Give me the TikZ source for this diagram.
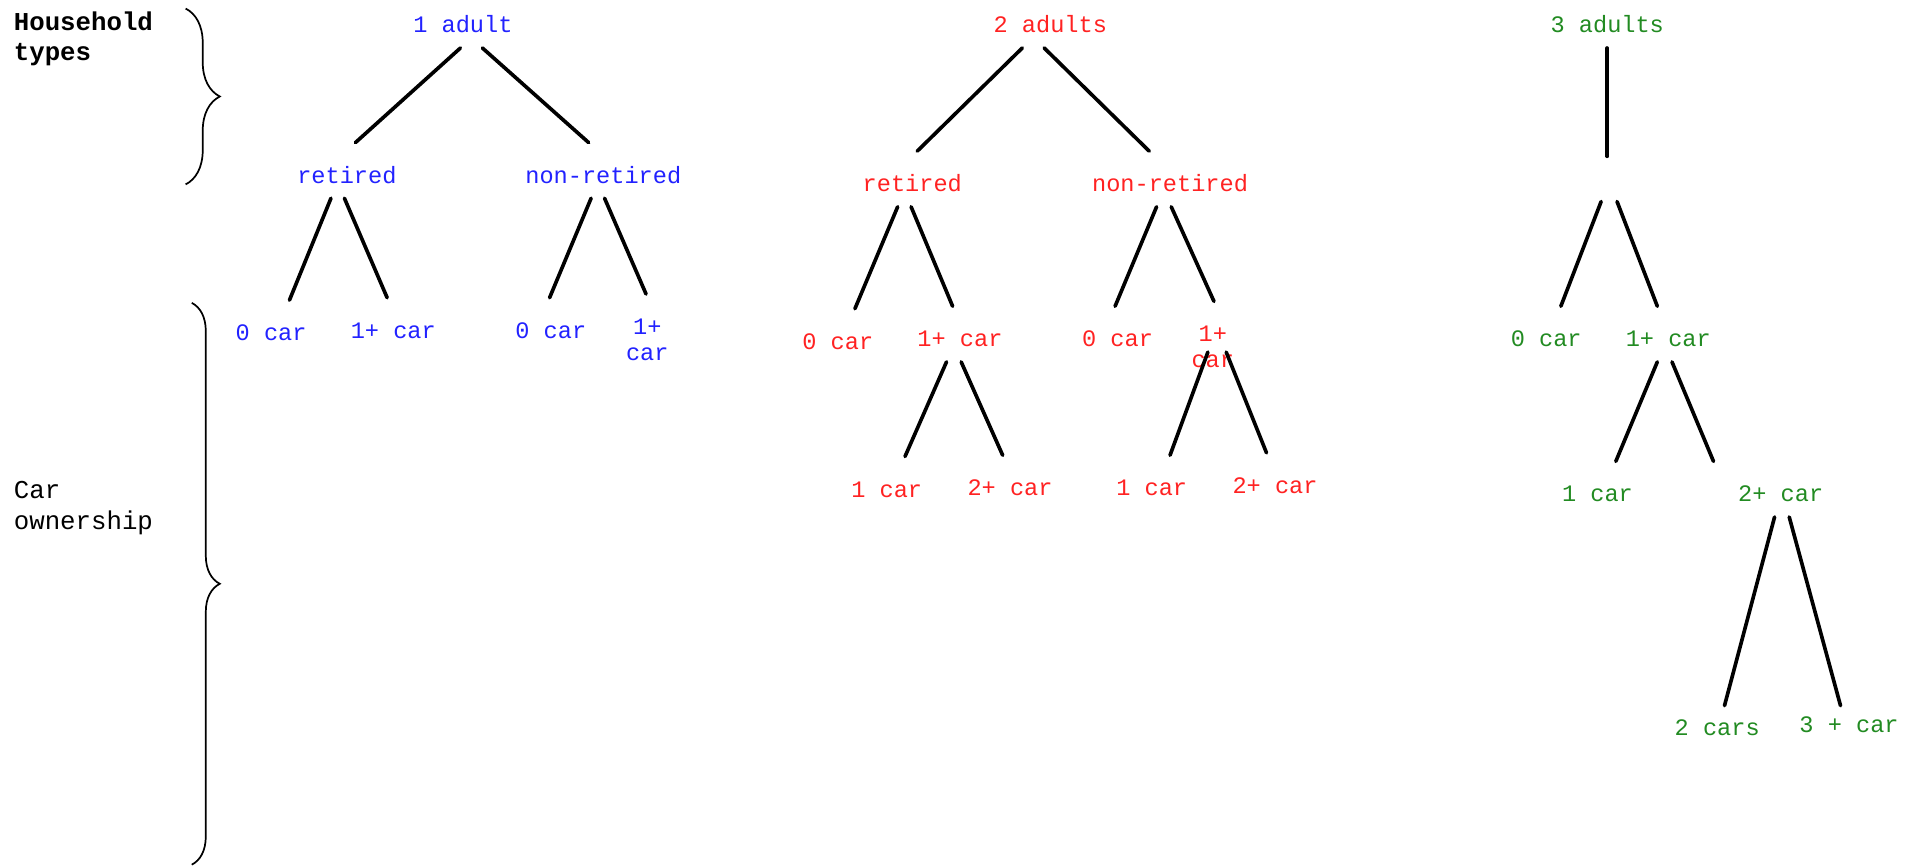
\documentclass[tikz,border=0pt]{standalone}
\usepackage{fontspec}
\setmainfont{Liberation Mono}
\usepackage{tikz}
\usetikzlibrary{decorations.pathreplacing}

\begin{document}
\begin{tikzpicture}[x=2cm, y=2cm,
        lbl/.style={inner sep=0pt, anchor=base, text height=18.7pt, text depth=6.8pt, align=center, font=\fontsize{11}{12}\selectfont},
        side/.style={inner sep=0pt, anchor=west, align=left, font=\fontsize{12}{14.2}\selectfont},
        branch/.style={line width=1.7pt, line cap=round},
        curly/.style={decorate, decoration={brace, amplitude=#1}, line width=0.8pt}]
        % Define the colors
        \definecolor{hhblue}{HTML}{2222FF}
        \definecolor{hhred}{HTML}{FF2222}
        \definecolor{hhgreen}{HTML}{228B22}

        \useasboundingbox (0,0) rectangle (15.68,-7.09);

        % Side labels with their braces
        \node[side, font=\bfseries\fontsize{12}{14.2}\selectfont] (HhTypes) at (0.11,-0.32) {Household\\types};
        \node[side] (CarOwn) at (0.11,-4.16) {Car\\ownership};
        \coordinate (HhTop) at (1.52,-0.07);
        \coordinate (HhBot) at (1.52,-1.51);
        \coordinate (CoTop) at (1.57,-2.48);
        \coordinate (CoBot) at (1.57,-7.08);
        \draw[curly=0.56cm] (HhTop) -- (HhBot);
        \draw[curly=0.46cm] (CoTop) -- (CoBot);

        % Draw the 1 adult tree (blue)
        \node[lbl, text=hhblue] (Adult1) at (3.79,-0.27) {1 adult};
        \node[lbl, text=hhblue] (Ret1) at (2.84,-1.50) {retired};
        \node[lbl, text=hhblue] (NonRet1) at (4.94,-1.50) {non-retired};
        \node[lbl, text=hhblue] (Ret1Zero) at (2.22,-2.79) {0 car};
        \node[lbl, text=hhblue] (Ret1Plus) at (3.22,-2.77) {1+ car};
        \node[lbl, text=hhblue] (NonRet1Zero) at (4.51,-2.77) {0 car};
        \node[lbl, text=hhblue] (NonRet1Plus) at (5.30,-2.95) {1+\\car};

        \draw[branch] ([xshift=-0.04cm]Adult1.south) -- ([xshift=0.14cm]Ret1.north);
        \draw[branch] ([xshift=0.32cm]Adult1.south) -- ([xshift=-0.24cm]NonRet1.north);
        \draw[branch] ([xshift=-0.26cm]Ret1.south) -- ([xshift=0.30cm]Ret1Zero.north);
        \draw[branch] ([xshift=-0.04cm]Ret1.south) -- ([xshift=-0.10cm]Ret1Plus.north);
        \draw[branch] ([xshift=-0.20cm]NonRet1.south) -- ([xshift=-0.02cm]NonRet1Zero.north);
        \draw[branch] ([xshift=0.02cm]NonRet1.south) -- ([xshift=-0.02cm, yshift=0.42cm]NonRet1Plus.north);

        % Draw the 2 adults tree (red)
        \node[lbl, text=hhred] (Adult2) at (8.60,-0.27) {2 adults};
        \node[lbl, text=hhred] (Ret2) at (7.47,-1.57) {retired};
        \node[lbl, text=hhred] (NonRet2) at (9.58,-1.57) {non-retired};
        \node[lbl, text=hhred] (Ret2Zero) at (6.86,-2.86) {0 car};
        \node[lbl, text=hhred] (Ret2Plus) at (7.86,-2.84) {1+ car};
        \node[lbl, text=hhred] (NonRet2Zero) at (9.15,-2.84) {0 car};
        \node[lbl, text=hhred] (NonRet2Plus) at (9.93,-3.01) {1+\\car};
        \node[lbl, text=hhred] (Ret2One) at (7.26,-4.07) {1 car};
        \node[lbl, text=hhred] (Ret2Two) at (8.27,-4.06) {2+ car};
        \node[lbl, text=hhred] (NonRet2One) at (9.43,-4.06) {1 car};
        \node[lbl, text=hhred] (NonRet2Two) at (10.44,-4.04) {2+ car};

        \draw[branch] ([xshift=-0.46cm]Adult2.south) -- ([xshift=0.08cm]Ret2.north);
        \draw[branch] ([xshift=-0.10cm]Adult2.south) -- ([xshift=-0.34cm]NonRet2.north);
        \draw[branch] ([xshift=-0.24cm]Ret2.south) -- ([xshift=0.28cm]Ret2Zero.north);
        \draw[branch] ([xshift=-0.02cm]Ret2.south) -- ([xshift=-0.12cm]Ret2Plus.north);
        \draw[branch] ([xshift=-0.22cm]NonRet2.south) -- ([xshift=-0.04cm]NonRet2Zero.north);
        \draw[branch] ([xshift=0.02cm]NonRet2.south) -- ([xshift=0.02cm, yshift=0.42cm]NonRet2Plus.north);
        \draw[branch] ([xshift=-0.22cm]Ret2Plus.south) -- ([xshift=0.30cm]Ret2One.north);
        \draw[branch] ([xshift=0.02cm]Ret2Plus.south) -- ([xshift=-0.12cm]Ret2Two.north);
        \draw[branch] ([xshift=-0.08cm, yshift=0.5cm]NonRet2Plus.south) -- ([xshift=0.30cm]NonRet2One.north);
        \draw[branch] ([xshift=0.22cm, yshift=0.5cm]NonRet2Plus.south) -- ([xshift=-0.14cm]NonRet2Two.north);

        % Draw the 3 adults tree (green)
        \node[lbl, text=hhgreen] (Adult3) at (13.16,-0.27) {3 adults};
        \coordinate (Mid3) at (13.16,-1.465);
        \node[lbl, text=hhgreen] (Zero3) at (12.66,-2.84) {0 car};
        \node[lbl, text=hhgreen] (Plus3) at (13.66,-2.84) {1+ car};
        \node[lbl, text=hhgreen] (One3) at (13.08,-4.11) {1 car};
        \node[lbl, text=hhgreen] (Two3) at (14.58,-4.11) {2+ car};
        \node[lbl, text=hhgreen] (TwoCars3) at (14.06,-6.02) {2 cars};
        \node[lbl, text=hhgreen] (ThreeCars3) at (15.14,-6.00) {3 + car};

        \draw[branch] (Adult3.south) -- ([yshift=0.37cm]Mid3);
        \draw[branch] ([xshift=-0.10cm, yshift=-0.37cm]Mid3) -- ([xshift=0.24cm]Zero3.north);
        \draw[branch] ([xshift=0.16cm, yshift=-0.37cm]Mid3) -- ([xshift=-0.18cm]Plus3.north);
        \draw[branch] ([xshift=-0.18cm]Plus3.south) -- ([xshift=0.30cm]One3.north);
        \draw[branch] ([xshift=0.06cm]Plus3.south) -- ([xshift=-1.10cm]Two3.north);
        \draw[branch] ([xshift=-0.10cm]Two3.south) -- ([xshift=0.12cm, yshift=-0.18cm]TwoCars3.north);
        \draw[branch] ([xshift=0.14cm]Two3.south) -- ([xshift=-0.14cm, yshift=-0.22cm]ThreeCars3.north);
\end{tikzpicture}
\end{document}
